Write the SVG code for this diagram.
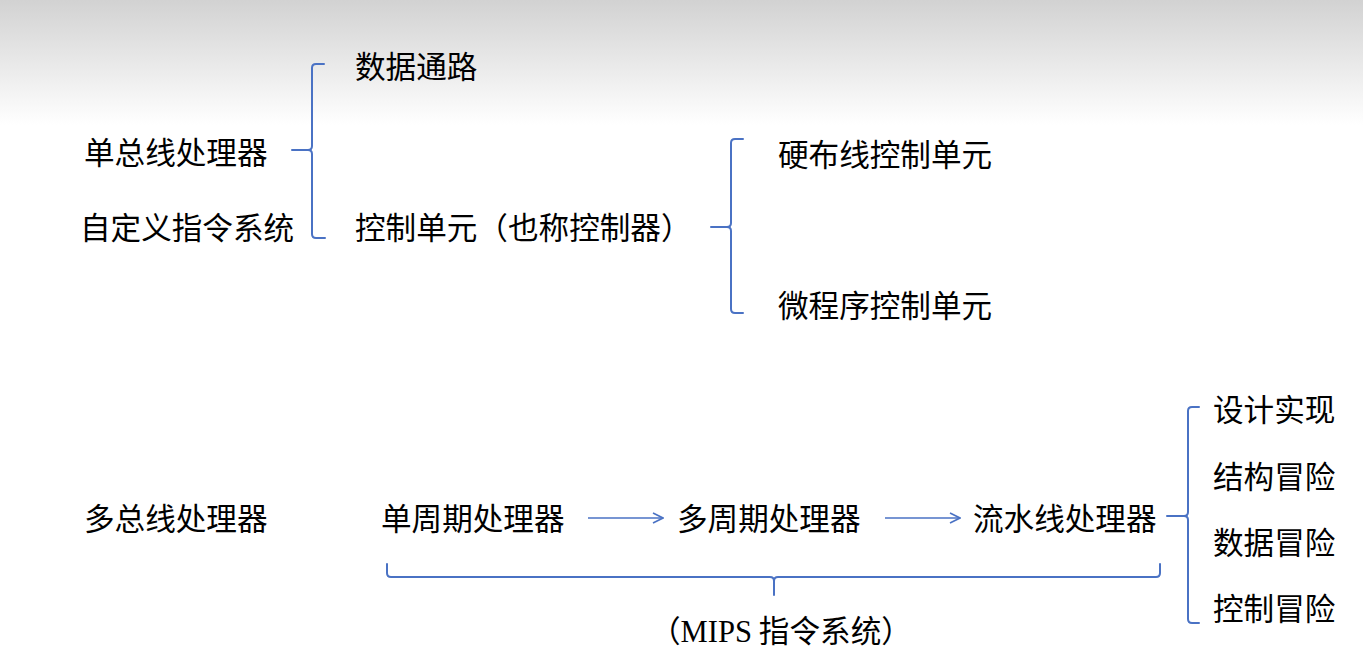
<svg xmlns="http://www.w3.org/2000/svg" width="1363" height="657" viewBox="0 0 1363 657">
  <defs>
    <linearGradient id="bg" x1="0" y1="0" x2="0" y2="1">
      <stop offset="0" stop-color="#d2d2d2"/>
      <stop offset="1" stop-color="#ffffff"/>
    </linearGradient>
    <marker id="open-arrow" viewBox="0 0 12 12" refX="11" refY="6" markerWidth="12" markerHeight="12" markerUnits="userSpaceOnUse" orient="auto">
      <path d="M1,1 L11,6 L1,11" fill="none" stroke="#4a72c4" stroke-width="1.6"/>
    </marker>
  </defs>
  <style>
    .t { font-family: "Noto Sans CJK SC", "Liberation Serif", serif; font-size: 30.6px; fill: #000; }
    .m { font-family: "Liberation Serif", "Noto Sans CJK SC", serif; }
    .br { fill: none; stroke: #4a72c4; stroke-width: 2; stroke-linejoin: round; stroke-linecap: round; }
    .ar { fill: none; stroke: #4a72c4; stroke-width: 1.6; }
  </style>

  <rect x="0" y="0" width="1363" height="657" fill="#ffffff"/>
  <rect x="0" y="0" width="1363" height="125" fill="url(#bg)"/>

  <!-- connectors: brackets and arrows -->
  <g id="connectors">
    <path class="br" d="M324,64 L316,64 Q312,64 312,68 L312,146 Q312,150 308,150 L292,150 M308,150 Q312,150 312,154 L312,234 Q312,238 316,238 L325,238"/>
    <path class="br" d="M743,139 L735,139 Q731,139 731,143 L731,223 Q731,227 727,227 L711,227 M727,227 Q731,227 731,231 L731,309 Q731,313 735,313 L743,313"/>
    <path class="br" d="M1199,407 L1192,407 Q1188,407 1188,411 L1188,512 Q1188,516 1184,516 L1167,516 M1184,516 Q1188,516 1188,520 L1188,619 Q1188,623 1192,623 L1199,623"/>
    <path class="br" d="M387,564 L387,573 Q387,577 391,577 L770,577 Q774,577 774,581 L774,595 M774,581 Q774,577 778,577 L1156,577 Q1160,577 1160,573 L1160,564"/>
    <line class="ar" x1="588" y1="518" x2="663" y2="518" marker-end="url(#open-arrow)"/>
    <line class="ar" x1="885" y1="518" x2="960" y2="518" marker-end="url(#open-arrow)"/>
  </g>

  <g id="single-bus"><text class="t" x="84" y="164">单总线处理器</text></g>
  <g id="custom-isa"><text class="t" x="80" y="239">自定义指令系统</text></g>
  <g id="datapath"><text class="t" x="355" y="78">数据通路</text></g>
  <g id="control-unit"><text class="t" x="355" y="239">控制单元（也称控制器）</text></g>
  <g id="hardwired"><text class="t" x="778" y="166">硬布线控制单元</text></g>
  <g id="microprogram"><text class="t" x="778" y="317">微程序控制单元</text></g>
  <g id="multi-bus"><text class="t" x="84" y="530">多总线处理器</text></g>
  <g id="single-cycle"><text class="t" x="381" y="530">单周期处理器</text></g>
  <g id="multi-cycle"><text class="t" x="677" y="530">多周期处理器</text></g>
  <g id="pipeline"><text class="t" x="973" y="530">流水线处理器</text></g>
  <g id="design"><text class="t" x="1213" y="421">设计实现</text></g>
  <g id="structural-hazard"><text class="t" x="1213" y="488">结构冒险</text></g>
  <g id="data-hazard"><text class="t" x="1213" y="554">数据冒险</text></g>
  <g id="control-hazard"><text class="t" x="1213" y="620">控制冒险</text></g>
  <g id="mips"><text class="t" x="650" y="642">（<tspan class="m">MIPS</tspan> 指令系统）</text></g>
</svg>
